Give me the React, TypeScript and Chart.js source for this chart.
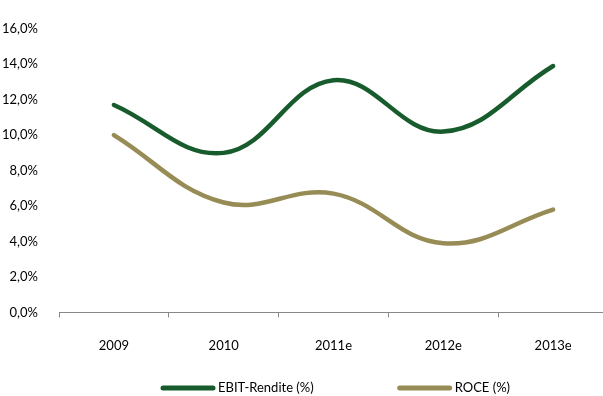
import React, { useEffect, useRef } from "react";
import { Chart, registerables } from "chart.js";

Chart.register(...registerables);

const categories = ["2009", "2010", "2011e", "2012e", "2013e"];
const ebitValues = [11.7, 9.0, 13.1, 10.2, 13.9];
const roceValues = [10.0, 6.2, 6.7, 3.9, 5.8];
const seriesNames = ["EBIT-Rendite (%)", "ROCE (%)"];
const seriesColors = ["#185c2e", "#978c55"];

const FONT = "Lato, 'Open Sans', sans-serif";

const bottomLegend = {
  id: "bottomLegend",
  afterDraw(chart: any) {
    const ctx = chart.ctx;
    const y = 388;
    const sampleW = 54;
    const gap = 3;
    const itemGap = 84;
    ctx.save();
    ctx.font = `13px ${FONT}`;
    ctx.textBaseline = "middle";
    ctx.textAlign = "left";
    let x = 161;
    chart.data.datasets.forEach((ds: any) => {
      ctx.strokeStyle = ds.borderColor;
      ctx.lineWidth = 5;
      ctx.lineCap = "round";
      ctx.beginPath();
      ctx.moveTo(x + 2, y);
      ctx.lineTo(x + sampleW - 2, y);
      ctx.stroke();
      ctx.fillStyle = "#000";
      ctx.fillText(ds.label, x + sampleW + gap, y);
      x += sampleW + gap + ctx.measureText(ds.label).width + itemGap;
    });
    ctx.restore();
  },
};

export default function App() {
  const ref = useRef<HTMLCanvasElement>(null);
  useEffect(() => {
    if (!ref.current) return;
    const chart = new Chart(ref.current, {
      type: "line",
      data: {
        labels: categories,
        datasets: [
          {
            label: seriesNames[0],
            data: ebitValues,
            borderColor: seriesColors[0],
            backgroundColor: seriesColors[0],
            borderWidth: 4.5,
            borderCapStyle: "round",
            pointRadius: 0,
            tension: 0.4,
          },
          {
            label: seriesNames[1],
            data: roceValues,
            borderColor: seriesColors[1],
            backgroundColor: seriesColors[1],
            borderWidth: 4.5,
            borderCapStyle: "round",
            pointRadius: 0,
            tension: 0.4,
          },
        ],
      },
      options: {
        responsive: false,
        animation: false,
        layout: { padding: { top: 23, right: 3, bottom: 21, left: 0 } },
        plugins: {
          legend: { display: false },
          tooltip: { enabled: false },
        },
        scales: {
          x: {
            offset: true,
            grid: {
              offset: true,
              drawOnChartArea: false,
              drawTicks: true,
              tickLength: 5,
              color: "#888",
            },
            border: { color: "#888", width: 1 },
            ticks: {
              color: "#000",
              font: { family: FONT, size: 13 },
              padding: 21,
              maxRotation: 0,
            },
          },
          y: {
            min: 0,
            max: 16,
            grid: { display: false, drawTicks: false },
            border: { display: false },
            ticks: {
              stepSize: 2,
              color: "#000",
              font: { family: FONT, size: 13 },
              padding: 21,
              callback: (v: any) => Number(v).toFixed(1).replace(".", ",") + "%",
            },
            afterFit: (scale: any) => {
              scale.width = 59;
            },
          },
        },
      },
      plugins: [bottomLegend],
    });
    return () => chart.destroy();
  }, []);
  return (
    <div
      style={{
        position: "absolute",
        left: 0,
        top: 0,
        width: 603,
        height: 396,
        overflow: "hidden",
        background: "#fff",
      }}
    >
      <canvas ref={ref} width={611} height={396} style={{ display: "block" }} />
    </div>
  );
}
